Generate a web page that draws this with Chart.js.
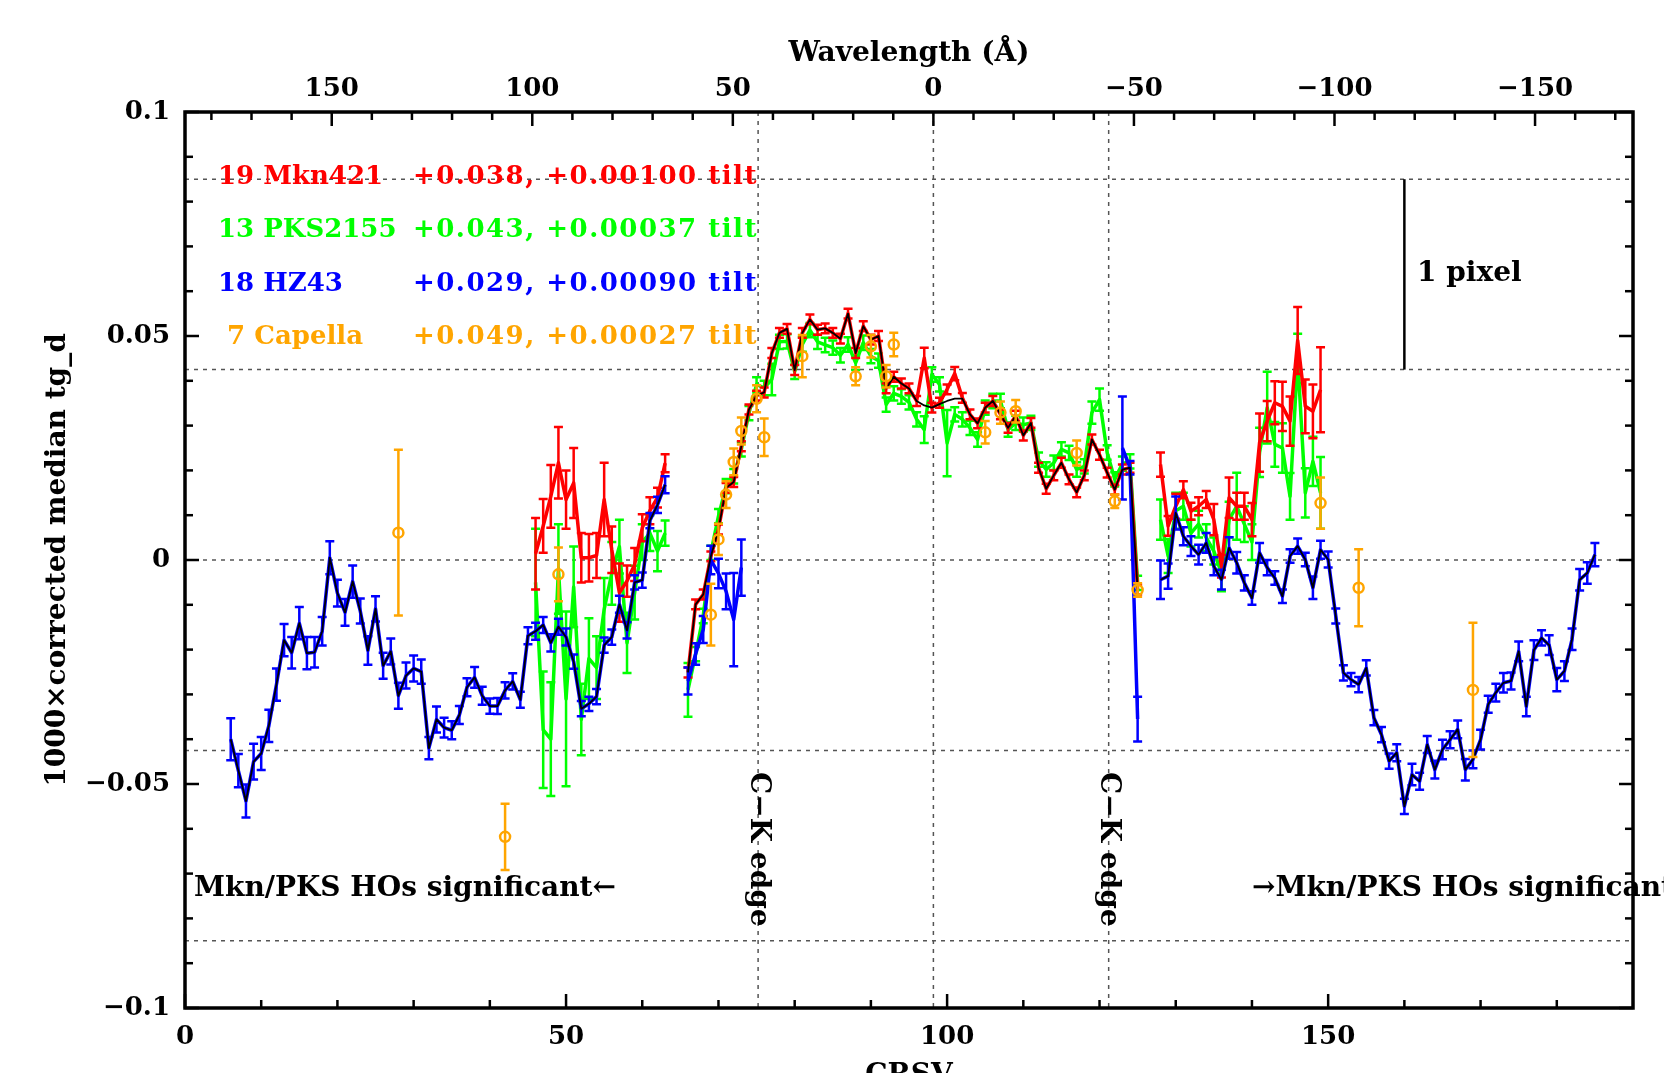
<!DOCTYPE html>
<html>
<head>
<meta charset="utf-8">
<title>corrected median tg_d vs CRSV</title>
<script src="https://cdn.jsdelivr.net/npm/chart.js@4.4.1/dist/chart.umd.min.js"></script>
<style>
  html, body { margin: 0; padding: 0; background: #fff; overflow: hidden; }
  canvas { display: block; }
</style>
</head>
<body>
<canvas id="tgdChart" width="1664" height="1073"></canvas>
<script>
// ---- categories (CRSV pixel rows) ----
const crsv6to63 = [6,7,8,9,10,11,12,13,14,15,16,17,18,19,20,21,22,23,24,25,26,27,28,29,30,31,32,33,34,35,
  36,37,38,39,40,41,42,43,44,45,46,47,48,49,50,51,52,53,54,55,56,57,58,59,60,61,62,63];
const crsv46to63 = [46,47,48,49,50,51,52,53,54,55,56,57,58,59,60,61,62,63];
const crsv66to73 = [66,67,68,69,70,71,72,73];
const crsv66to125 = [66,67,68,69,70,71,72,73,74,75,76,77,78,79,80,81,82,83,84,85,86,87,88,89,90,91,92,93,94,95,
  96,97,98,99,100,101,102,103,104,105,106,107,108,109,110,111,112,113,114,115,116,117,118,119,120,121,122,123,124,125];
const crsv123to125 = [123,124,125];
const crsv128to149 = [128,129,130,131,132,133,134,135,136,137,138,139,140,141,142,143,144,145,146,147,148,149];
const crsv128to185 = [128,129,130,131,132,133,134,135,136,137,138,139,140,141,142,143,144,145,146,147,148,149,
  150,151,152,153,154,155,156,157,158,159,160,161,162,163,164,165,166,167,168,169,170,171,172,173,174,175,176,177,178,179,180,181,182,183,184,185];

// ---- 18 HZ43 (blue) ----
const hz43ValA = [-0.0400,-0.0470,-0.0538,-0.0450,-0.0432,-0.0370,-0.0278,-0.0179,-0.0207,-0.0141,
  -0.0208,-0.0206,-0.0159,0.0005,-0.0074,-0.0117,-0.0048,-0.0114,-0.0202,-0.0109,
  -0.0236,-0.0204,-0.0303,-0.0258,-0.0242,-0.0249,-0.0420,-0.0356,-0.0374,-0.0380,
  -0.0346,-0.0284,-0.0262,-0.0303,-0.0326,-0.0326,-0.0291,-0.0271,-0.0312,-0.0169,
  -0.0159,-0.0145,-0.0185,-0.0149,-0.0172,-0.0227,-0.0332,-0.0321,-0.0305,-0.0190,
  -0.0172,-0.0099,-0.0157,-0.0050,-0.0045,0.0088,0.0123,0.0168];
const hz43ErrA = [0.0047,0.0037,0.0037,0.0040,0.0037,0.0036,0.0036,0.0036,0.0035,0.0036,
  0.0036,0.0034,0.0032,0.0037,0.0030,0.0030,0.0036,0.0028,0.0032,0.0028,
  0.0029,0.0029,0.0029,0.0029,0.0029,0.0027,0.0025,0.0029,0.0022,0.0020,
  0.0020,0.0020,0.0023,0.0020,0.0017,0.0018,0.0018,0.0018,0.0018,0.0019,
  0.0019,0.0018,0.0019,0.0018,0.0019,0.0016,0.0017,0.0016,0.0017,0.0017,
  0.0017,0.0019,0.0018,0.0016,0.0017,0.0017,0.0018,0.0019];
const hz43ValB = [-0.0270,-0.0210,-0.0155,0.0000,-0.0030,-0.0070,-0.0133,-0.0017];
const hz43ErrB = [0.0030,0.0024,0.0030,0.0032,0.0033,0.0040,0.0104,0.0063];
const hz43ValC = [0.0250,0.0206,-0.0355];
const hz43ErrC = [0.0115,0.0015,0.0050];
const hz43ValD = [-0.0044,-0.0036,0.0105,0.0053,0.0031,0.0012,0.0038,-0.0014,-0.0044,0.0027,
  -0.0006,-0.0051,-0.0085,0.0016,-0.0017,-0.0040,-0.0081,0.0009,0.0031,0.0001,
  -0.0062,0.0023,0.0001,-0.0125,-0.0252,-0.0267,-0.0278,-0.0241,-0.0352,-0.0390,
  -0.0449,-0.0430,-0.0550,-0.0479,-0.0494,-0.0412,-0.0468,-0.0423,-0.0401,-0.0378,
  -0.0468,-0.0445,-0.0401,-0.0322,-0.0296,-0.0274,-0.0270,-0.0204,-0.0327,-0.0201,
  -0.0174,-0.0190,-0.0267,-0.0248,-0.0177,-0.0044,-0.0029,0.0012];
const hz43ErrD = [0.0043,0.0028,0.0037,0.0020,0.0022,0.0022,0.0022,0.0020,0.0022,0.0024,
  0.0024,0.0017,0.0015,0.0022,0.0017,0.0015,0.0015,0.0015,0.0017,0.0015,
  0.0025,0.0020,0.0018,0.0017,0.0017,0.0015,0.0017,0.0017,0.0017,0.0017,
  0.0017,0.0019,0.0017,0.0024,0.0019,0.0019,0.0020,0.0022,0.0019,0.0020,
  0.0024,0.0020,0.0022,0.0019,0.0020,0.0022,0.0019,0.0022,0.0022,0.0022,
  0.0017,0.0022,0.0026,0.0022,0.0024,0.0024,0.0024,0.0026];

// ---- 19 Mkn421 (red) ----
const mknValA = [0.0014,0.0076,0.0142,0.0217,0.0135,0.0172,0.0005,0.0005,0.0010,0.0135,
  0.0023,-0.0073,-0.0047,-0.0010,0.0072,0.0110,0.0139,0.0216];
const mknErrA = [0.0080,0.0060,0.0070,0.0080,0.0065,0.0078,0.0055,0.0053,0.0050,0.0082,
  0.0052,0.0065,0.0035,0.0037,0.0030,0.0030,0.0022,0.0020];
const mknValB = [-0.0251,-0.0099,-0.0077,0.0008,0.0068,0.0161,0.0174,0.0254,0.0336,0.0367,
  0.0374,0.0462,0.0507,0.0516,0.0424,0.0507,0.0537,0.0514,0.0517,0.0507,
  0.0494,0.0550,0.0462,0.0522,0.0492,0.0500,0.0383,0.0409,0.0394,0.0383,
  0.0355,0.0451,0.0340,0.0351,0.0381,0.0416,0.0362,0.0325,0.0305,0.0340,
  0.0355,0.0325,0.0295,0.0322,0.0278,0.0306,0.0206,0.0159,0.0189,0.0217,
  0.0180,0.0151,0.0189,0.0269,0.0235,0.0195,0.0157,0.0202,0.0206,-0.0066];
const mknErrB = [0.0011,0.0011,0.0011,0.0011,0.0011,0.0011,0.0011,0.0011,0.0011,0.0011,
  0.0011,0.0011,0.0011,0.0011,0.0011,0.0011,0.0011,0.0011,0.0011,0.0011,
  0.0011,0.0011,0.0011,0.0011,0.0011,0.0011,0.0011,0.0011,0.0011,0.0011,
  0.0011,0.0023,0.0011,0.0011,0.0011,0.0015,0.0011,0.0011,0.0011,0.0011,
  0.0011,0.0011,0.0011,0.0011,0.0011,0.0011,0.0011,0.0011,0.0011,0.0011,
  0.0011,0.0011,0.0011,0.0011,0.0011,0.0011,0.0011,0.0011,0.0011,0.0011];
const mknValC = [0.0213,0.0076,0.0120,0.0157,0.0109,0.0120,0.0135,0.0090,-0.0014,0.0139,
  0.0120,0.0120,0.0090,0.0262,0.0310,0.0351,0.0343,0.0310,0.0490,0.0343,0.0332,0.0380];
const mknErrC = [0.0027,0.0022,0.0028,0.0019,0.0019,0.0020,0.0019,0.0035,0.0025,0.0045,
  0.0030,0.0030,0.0037,0.0065,0.0045,0.0048,0.0055,0.0055,0.0075,0.0060,0.0060,0.0095];

// ---- 13 PKS2155 (green) ----
const pksValA = [-0.0050,-0.0379,-0.0400,-0.0020,-0.0310,-0.0060,-0.0356,-0.0220,-0.0240,-0.0110,
  -0.0030,0.0030,-0.0185,-0.0073,0.0040,0.0060,0.0020,0.0060];
const pksErrA = [0.0120,0.0130,0.0127,0.0100,0.0195,0.0090,0.0080,0.0090,0.0070,0.0070,
  0.0070,0.0060,0.0067,0.0060,0.0040,0.0040,0.0045,0.0028];
const pksValB = [-0.0290,-0.0210,-0.0125,0.0016,0.0098,0.0165,0.0187,0.0247,0.0328,0.0392,
  0.0384,0.0403,0.0487,0.0488,0.0420,0.0481,0.0513,0.0487,0.0480,0.0474,
  0.0457,0.0481,0.0440,0.0485,0.0455,0.0445,0.0347,0.0372,0.0365,0.0352,
  0.0314,0.0291,0.0414,0.0392,0.0261,0.0325,0.0314,0.0295,0.0269,0.0340,
  0.0355,0.0355,0.0291,0.0306,0.0302,0.0306,0.0224,0.0202,0.0217,0.0247,
  0.0239,0.0202,0.0209,0.0329,0.0358,0.0240,0.0180,0.0215,0.0220,-0.0051];
const pksErrB = [0.0060,0.0016,0.0016,0.0016,0.0016,0.0016,0.0016,0.0016,0.0016,0.0016,
  0.0016,0.0035,0.0016,0.0016,0.0016,0.0016,0.0016,0.0016,0.0016,0.0016,
  0.0016,0.0016,0.0016,0.0016,0.0016,0.0016,0.0016,0.0016,0.0016,0.0016,
  0.0016,0.0030,0.0016,0.0016,0.0074,0.0016,0.0016,0.0016,0.0016,0.0016,
  0.0016,0.0016,0.0016,0.0016,0.0016,0.0016,0.0016,0.0016,0.0016,0.0016,
  0.0016,0.0016,0.0016,0.0025,0.0025,0.0016,0.0016,0.0016,0.0016,0.0016];
const pksValC = [0.0090,0.0009,0.0110,0.0120,0.0060,0.0080,0.0050,0.0020,-0.0030,0.0090,
  0.0120,0.0080,0.0040,0.0240,0.0340,0.0258,0.0250,0.0142,0.0450,0.0150,0.0220,0.0150];
const pksErrC = [0.0045,0.0038,0.0040,0.0030,0.0030,0.0030,0.0030,0.0030,0.0040,0.0040,
  0.0075,0.0040,0.0040,0.0055,0.0080,0.0050,0.0055,0.0052,0.0055,0.0055,0.0055,0.0080];

// ---- 7 Capella (orange) ----
const capellaCrsv = [28,42,49,69,70,71,72,73,75,76,81,88,90,92,93,105,107,109,117,122,125,149,154,169];
const capellaVal = [0.0061,-0.0618,-0.0032,-0.0122,0.0046,0.0146,0.0219,0.0288,0.0360,0.0274,
  0.0455,0.0410,0.0477,0.0410,0.0481,0.0285,0.0329,0.0332,0.0239,0.0131,-0.0067,0.0127,-0.0062,-0.0290];
const capellaErr = [0.0185,0.0074,0.0060,0.0069,0.0035,0.0030,0.0030,0.0030,0.0030,0.0042,
  0.0047,0.0020,0.0025,0.0025,0.0026,0.0025,0.0025,0.0025,0.0028,0.0015,0.0015,0.0057,0.0086,0.0150];

// ---- adopted correction (black), central part ----
const adoptedValMid = [-0.0251,-0.0099,-0.0077,0.0008,0.0068,0.0161,0.0174,0.0254,0.0336,0.0367,
  0.0374,0.0462,0.0507,0.0516,0.0424,0.0507,0.0537,0.0514,0.0517,0.0507,
  0.0494,0.0550,0.0462,0.0522,0.0492,0.0500,0.0383,0.0409,0.0394,0.0383,
  0.0355,0.0345,0.0340,0.0348,0.0355,0.0360,0.0360,0.0325,0.0305,0.0340,
  0.0355,0.0325,0.0295,0.0322,0.0278,0.0306,0.0206,0.0159,0.0189,0.0217,
  0.0180,0.0151,0.0189,0.0269,0.0235,0.0195,0.0157,0.0202,0.0206,-0.0066];

// ---- axes / ticks ----
const zeroOrderCrsv = 98.2;
const angstromPerCrsv = 1.9;
const edgeCrsv = [75.2, 98.2, 121.2];
const pixelLevels = [0.085, 0.0425, 0, -0.0425, -0.085];
const crsvMajorTicks = [0, 50, 100, 150];
const crsvMinorTicks = [10, 20, 30, 40, 60, 70, 80, 90, 110, 120, 130, 140, 160, 170, 180];
const waveMajorTicks = [-150, -100, -50, 0, 50, 100, 150];
const waveMinorTicks = [-170, -160, -140, -130, -120, -110, -90, -80, -70, -60, -40, -30, -20, -10,
  10, 20, 30, 40, 60, 70, 80, 90, 110, 120, 130, 140, 160, 170, 180];
const yMajorTicks = [-0.1, -0.05, 0, 0.05, 0.1];
const yMinorTicks = [-0.09, -0.08, -0.07, -0.06, -0.04, -0.03, -0.02, -0.01,
  0.01, 0.02, 0.03, 0.04, 0.06, 0.07, 0.08, 0.09];

const seriesNames = ['19 Mkn421', '13 PKS2155', '18 HZ43', ' 7 Capella'];
const seriesNotes = ['+0.038, +0.00100 tilt', '+0.043, +0.00037 tilt', '+0.029, +0.00090 tilt', '+0.049, +0.00027 tilt'];
const seriesColors = ['#ff0000', '#00ff00', '#0000ff', '#ffa500'];

const FONT = "'DejaVu Serif', serif";
const minus = s => String(s).replace('-', '\u2212');

function joinSegments(segments) {
  const pts = [], errs = [];
  segments.forEach(([cs, vs, es], k) => {
    if (k > 0) { pts.push({x: cs[0] - 0.5, y: null}); errs.push(null); }
    cs.forEach((c, i) => { pts.push({x: c, y: vs[i]}); errs.push(es ? es[i] : null); });
  });
  return {pts, errs};
}

const hz43 = joinSegments([[crsv6to63, hz43ValA, hz43ErrA], [crsv66to73, hz43ValB, hz43ErrB],
  [crsv123to125, hz43ValC, hz43ErrC], [crsv128to185, hz43ValD, hz43ErrD]]);
const mkn = joinSegments([[crsv46to63, mknValA, mknErrA], [crsv66to125, mknValB, mknErrB], [crsv128to149, mknValC, mknErrC]]);
const pks = joinSegments([[crsv46to63, pksValA, pksErrA], [crsv66to125, pksValB, pksErrB], [crsv128to149, pksValC, pksErrC]]);
const capella = joinSegments([[capellaCrsv, capellaVal, capellaErr]]);
const adopted = joinSegments([[crsv6to63, hz43ValA], [crsv66to125, adoptedValMid], [crsv128to185, hz43ValD]]);

// error bars drawn just before each dataset
const errorBars = {
  id: 'errorBars',
  beforeDatasetDraw(chart, args) {
    const ds = chart.data.datasets[args.index];
    if (!ds.errors) return;
    const {ctx} = chart;
    const xs = chart.scales.x, ys = chart.scales.y;
    const cap = 4.5;
    ctx.save();
    ctx.strokeStyle = ds.barColor;
    ctx.lineWidth = 2.5;
    ds.data.forEach((p, i) => {
      const e = ds.errors[i];
      if (p.y === null || e == null) return;
      const px = xs.getPixelForValue(p.x);
      const top = ys.getPixelForValue(p.y + e), bot = ys.getPixelForValue(p.y - e);
      ctx.beginPath();
      ctx.moveTo(px, top); ctx.lineTo(px, bot);
      ctx.moveTo(px - cap, top); ctx.lineTo(px + cap, top);
      ctx.moveTo(px - cap, bot); ctx.lineTo(px + cap, bot);
      ctx.stroke();
    });
    ctx.restore();
  }
};

const decorations = {
  id: 'decorations',
  beforeDraw(chart) {
    const {ctx} = chart;
    ctx.save();
    ctx.fillStyle = '#fff';
    ctx.fillRect(0, 0, chart.width, chart.height);
    ctx.restore();
  },
  beforeDatasetsDraw(chart) {
    const {ctx, chartArea: a, scales: {x, y}} = chart;
    ctx.save();
    ctx.strokeStyle = '#555';
    ctx.lineWidth = 1.5;
    ctx.setLineDash([4, 5]);
    pixelLevels.forEach(v => {
      const py = y.getPixelForValue(v);
      ctx.beginPath(); ctx.moveTo(a.left, py); ctx.lineTo(a.right, py); ctx.stroke();
    });
    edgeCrsv.forEach(c => {
      const px = x.getPixelForValue(c);
      ctx.beginPath(); ctx.moveTo(px, a.top); ctx.lineTo(px, a.bottom); ctx.stroke();
    });
    ctx.restore();
  },
  afterDatasetsDraw(chart) {
    const {ctx, chartArea: a, scales: {x, x2, y}} = chart;
    ctx.save();
    // frame
    ctx.strokeStyle = '#000';
    ctx.lineWidth = 3.5;
    ctx.strokeRect(a.left, a.top, a.right - a.left, a.bottom - a.top);
    // inward ticks
    ctx.lineWidth = 2.5;
    const tick = (x0, y0, x1, y1) => { ctx.beginPath(); ctx.moveTo(x0, y0); ctx.lineTo(x1, y1); ctx.stroke(); };
    crsvMajorTicks.forEach(c => { const p = x.getPixelForValue(c); tick(p, a.bottom, p, a.bottom - 14); });
    crsvMinorTicks.forEach(c => { const p = x.getPixelForValue(c); tick(p, a.bottom, p, a.bottom - 8); });
    waveMajorTicks.forEach(w => { const p = x2.getPixelForValue(w); tick(p, a.top, p, a.top + 14); });
    waveMinorTicks.forEach(w => { const p = x2.getPixelForValue(w); tick(p, a.top, p, a.top + 8); });
    yMajorTicks.forEach(v => {
      const p = y.getPixelForValue(v);
      tick(a.left, p, a.left + 14, p); tick(a.right, p, a.right - 14, p);
    });
    yMinorTicks.forEach(v => {
      const p = y.getPixelForValue(v);
      tick(a.left, p, a.left + 8, p); tick(a.right, p, a.right - 8, p);
    });
    // one-pixel scale bar
    const bx = x.getPixelForValue(160);
    tick(bx, y.getPixelForValue(0.085), bx, y.getPixelForValue(0.0425));

    ctx.setLineDash([]);
    ctx.textBaseline = 'middle';
    // legend block
    const rows = [177, 230, 284, 337];
    seriesNames.forEach((n, i) => {
      ctx.fillStyle = seriesColors[i];
      ctx.font = `bold 26px ${FONT}`;
      ctx.letterSpacing = '0px';
      ctx.textAlign = 'left';
      ctx.fillText(n, 218, rows[i]);
      ctx.letterSpacing = '1.5px';
      ctx.textAlign = 'right';
      ctx.fillText(seriesNotes[i], 758, rows[i]);
    });
    ctx.letterSpacing = '0px';
    ctx.font = `bold 28px ${FONT}`;
    ctx.fillStyle = '#000';
    ctx.textAlign = 'left';
    ctx.fillText('1 pixel', 1417, 274);
    ctx.fillText('Mkn/PKS HOs significant\u2190', 194, 889);
    ctx.fillText('\u2192Mkn/PKS HOs significant', 1252, 889);
    [edgeCrsv[0], edgeCrsv[2]].forEach(c => {
      ctx.save();
      ctx.translate(x.getPixelForValue(c), 772);
      ctx.rotate(Math.PI / 2);
      ctx.textAlign = 'left';
      ctx.fillText('C\u2212K edge', 0, 0);
      ctx.restore();
    });
    ctx.textAlign = 'center';
    ctx.textBaseline = 'alphabetic';
    ctx.fillText('CRSV', (a.left + a.right) / 2, 1083);
    ctx.restore();
  }
};

const tickFont = {family: FONT, size: 26, weight: 'bold'};
const titleFont = {family: FONT, size: 28, weight: 'bold'};

const ctx = document.getElementById('tgdChart').getContext('2d');
const tgdChart = new Chart(ctx, {
  type: 'line',
  data: {
    datasets: [
      { label: 'Capella', data: capella.pts, errors: capella.errs, barColor: '#ffa500', showLine: false,
        pointRadius: 5, pointBorderWidth: 2.5, pointBorderColor: '#ffa500', pointBackgroundColor: 'rgba(0,0,0,0)', order: 1 },
      { label: 'adopted', data: adopted.pts, borderColor: '#000', borderWidth: 1.8, pointRadius: 0, order: 2 },
      { label: 'HZ43', data: hz43.pts, errors: hz43.errs, barColor: '#0000ff', borderColor: '#0000ff', borderWidth: 3.5, pointRadius: 0, order: 3 },
      { label: 'Mkn421', data: mkn.pts, errors: mkn.errs, barColor: '#ff0000', borderColor: '#ff0000', borderWidth: 3.5, pointRadius: 0, order: 4 },
      { label: 'PKS2155', data: pks.pts, errors: pks.errs, barColor: '#00ff00', borderColor: '#00ff00', borderWidth: 3.5, pointRadius: 0, order: 5 }
    ]
  },
  options: {
    responsive: false,
    animation: false,
    devicePixelRatio: 1,
    spanGaps: false,
    layout: { padding: { left: 0, right: 31, top: 0, bottom: 0 } },
    elements: { line: { tension: 0, borderJoinStyle: 'round' } },
    plugins: { legend: { display: false }, tooltip: { enabled: false } },
    scales: {
      x: {
        type: 'linear', position: 'bottom', min: 0, max: 190,
        afterFit: s => { s.height = 65; },
        grid: { display: false, drawTicks: false }, border: { display: false },
        ticks: { stepSize: 50, includeBounds: false, padding: 14, color: '#000', font: tickFont, maxRotation: 0 }
      },
      x2: {
        type: 'linear', position: 'top', reverse: true,
        min: (zeroOrderCrsv - 190) * angstromPerCrsv, max: zeroOrderCrsv * angstromPerCrsv,
        afterFit: s => { s.height = 112; },
        grid: { display: false, drawTicks: false }, border: { display: false },
        ticks: { stepSize: 50, includeBounds: false, padding: 7, color: '#000', font: tickFont, maxRotation: 0,
          callback: v => minus(v) },
        title: { display: true, text: 'Wavelength (\u00c5)', color: '#000', font: titleFont, padding: { top: 37, bottom: 0 } }
      },
      y: {
        type: 'linear', position: 'left', min: -0.1, max: 0.1,
        afterFit: s => { s.width = 185; },
        grid: { display: false, drawTicks: false }, border: { display: false },
        ticks: { stepSize: 0.05, includeBounds: false, padding: 15, color: '#000', font: tickFont,
          callback: v => Math.abs(v) < 1e-9 ? '0' : minus(Math.round(v * 100) / 100) },
        title: { display: true, text: '1000\u00d7corrected median tg_d', color: '#000', font: titleFont, padding: { top: 41, bottom: 0 } }
      }
    }
  },
  plugins: [errorBars, decorations]
});
</script>
</body>
</html>
